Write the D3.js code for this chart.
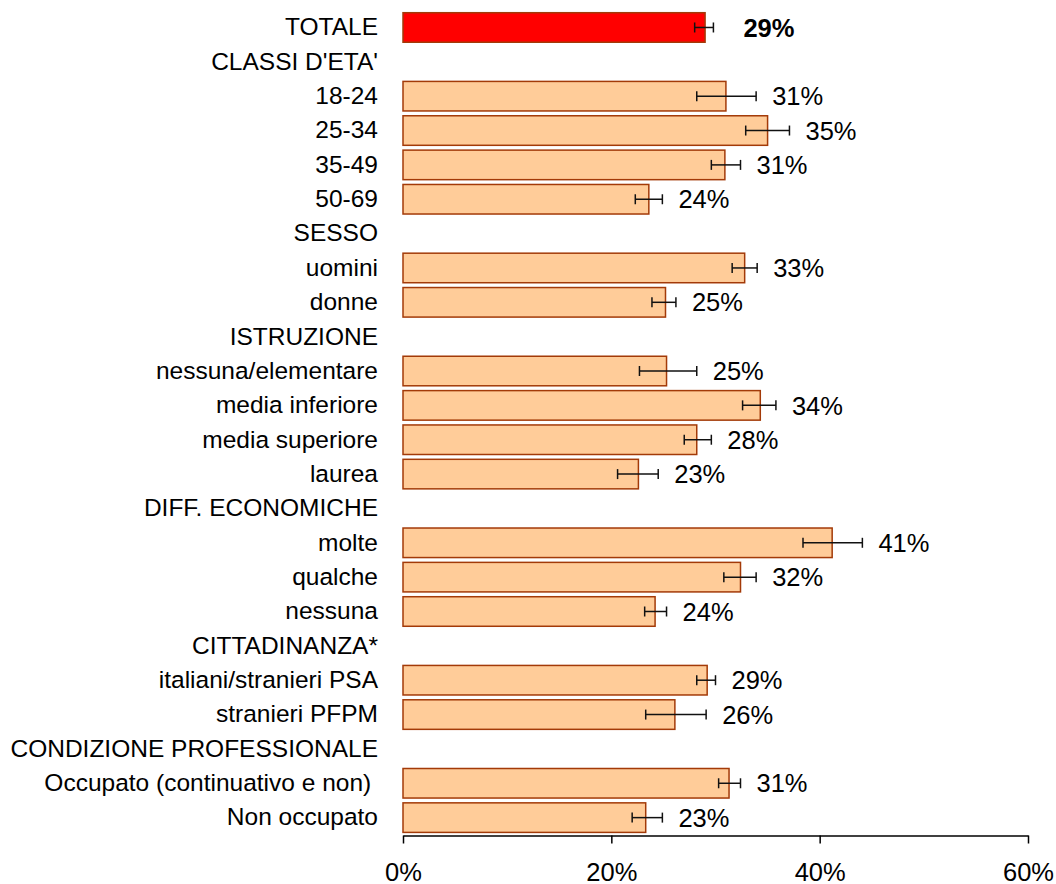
<!DOCTYPE html>
<html>
  <head>
  <title>Bar chart with error bars</title>
  </head>
  <body>
    <style>
        body, html {
          margin: 0;
          padding: 0;
          background: #fff;
        }
        text {
          font-family: "Liberation Sans", Arial, sans-serif;
        }
      </style>

  <svg id="svg" width="1056" height="884"></svg>

  <script src="https://cdnjs.cloudflare.com/ajax/libs/d3/7.8.5/d3.min.js"></script>
  <script>
    // Row labels (group headers have no value)
    const categories = [
      'TOTALE', "CLASSI D'ETA'", '18-24', '25-34', '35-49', '50-69',
      'SESSO', 'uomini', 'donne',
      'ISTRUZIONE', 'nessuna/elementare', 'media inferiore', 'media superiore', 'laurea',
      'DIFF. ECONOMICHE', 'molte', 'qualche', 'nessuna',
      'CITTADINANZA*', 'italiani/stranieri PSA', 'stranieri PFPM',
      'CONDIZIONE PROFESSIONALE', 'Occupato (continuativo e non) ', 'Non occupato'
    ]
    // percentages
    const values = [
      29.0, null, 31.0, 35.0, 30.9, 23.6,
      null, 32.8, 25.2,
      null, 25.3, 34.3, 28.2, 22.6,
      null, 41.2, 32.4, 24.2,
      null, 29.2, 26.1,
      null, 31.3, 23.3
    ]
    // confidence interval, lower bound
    const errLow = [
      28.0, null, 28.2, 32.9, 29.6, 22.3,
      null, 31.6, 23.9,
      null, 22.7, 32.6, 27.0, 20.6,
      null, 38.4, 30.8, 23.2,
      null, 28.2, 23.3,
      null, 30.3, 22.0
    ]
    // confidence interval, upper bound
    const errHigh = [
      29.8, null, 33.9, 37.1, 32.4, 24.9,
      null, 34.0, 26.2,
      null, 28.2, 35.8, 29.6, 24.5,
      null, 44.1, 33.9, 25.3,
      null, 30.0, 29.1,
      null, 32.4, 24.9
    ]
    const xTicks = [0, 20, 40, 60]

    const data = categories.map((c, i) => ({
      name: c,
      value: values[i],
      lo: errLow[i],
      hi: errHigh[i],
      total: i === 0
    }))

    const svg = d3.select('#svg')

    const xscale = d3.scaleLinear()
      .domain([0, 60])
      .range([403, 1028])

    const yscale = d3.scaleBand()
      .domain(categories)
      .range([10.3, 834.8])
      .paddingInner(0.14)
      .paddingOuter(0.07)

    const bars = data.filter(d => d.value !== null)

    // bars
    svg.append('g')
      .selectAll('rect')
      .data(bars)
      .join('rect')
      .attr('x', xscale(0))
      .attr('y', d => yscale(d.name))
      .attr('width', d => xscale(d.value) - xscale(0))
      .attr('height', yscale.bandwidth())
      .attr('fill', d => d.total ? '#ff0000' : '#ffcc99')
      .attr('stroke', '#a33a08')
      .attr('stroke-width', 1.5)

    // error bars
    const err = svg.append('g')
      .attr('stroke', '#111')
      .attr('stroke-width', 1.5)
    const cy = d => yscale(d.name) + yscale.bandwidth() / 2
    err.selectAll('line.h')
      .data(bars)
      .join('line')
      .attr('class', 'h')
      .attr('x1', d => xscale(d.lo))
      .attr('x2', d => xscale(d.hi))
      .attr('y1', cy)
      .attr('y2', cy)
    err.selectAll('line.lo')
      .data(bars)
      .join('line')
      .attr('class', 'lo')
      .attr('x1', d => xscale(d.lo))
      .attr('x2', d => xscale(d.lo))
      .attr('y1', d => cy(d) - 5)
      .attr('y2', d => cy(d) + 5)
    err.selectAll('line.hi')
      .data(bars)
      .join('line')
      .attr('class', 'hi')
      .attr('x1', d => xscale(d.hi))
      .attr('x2', d => xscale(d.hi))
      .attr('y1', d => cy(d) - 5)
      .attr('y2', d => cy(d) + 5)

    // value labels
    svg.append('g')
      .selectAll('text')
      .data(bars)
      .join('text')
      .attr('x', d => xscale(d.hi) + (d.total ? 30 : 16))
      .attr('y', cy)
      .attr('dy', '0.36em')
      .attr('font-size', 25.5)
      .attr('font-weight', d => d.total ? 'bold' : 'normal')
      .attr('fill', '#000')
      .text(d => Math.round(d.value) + '%')

    // category labels
    const leftAxis = d3.axisLeft(yscale).tickSize(0).tickPadding(0)
    const left = svg.append('g')
      .attr('transform', 'translate(378, 0)')
      .call(leftAxis)
    left.select('.domain').remove()
    left.selectAll('text')
      .attr('font-size', 24.5)
      .attr('font-family', '"Liberation Sans", Arial, sans-serif')
      .attr('fill', '#000')
      .style('white-space', 'pre')

    // bottom axis
    const bottomAxis = d3.axisBottom(xscale)
      .tickValues(xTicks)
      .tickFormat(d => d + '%')
      .tickSize(8)
      .tickSizeOuter(0)
      .tickPadding(19)
    const bottom = svg.append('g')
      .attr('transform', 'translate(0, 835.5)')
      .call(bottomAxis)
    bottom.select('.domain').attr('stroke', '#000').attr('stroke-width', 1.5)
    bottom.selectAll('.tick line').attr('stroke', '#000').attr('stroke-width', 1.5)
    bottom.selectAll('text')
      .attr('font-size', 25.5)
      .attr('font-family', '"Liberation Sans", Arial, sans-serif')
      .attr('fill', '#000')
  </script>
  </body>
</html>
